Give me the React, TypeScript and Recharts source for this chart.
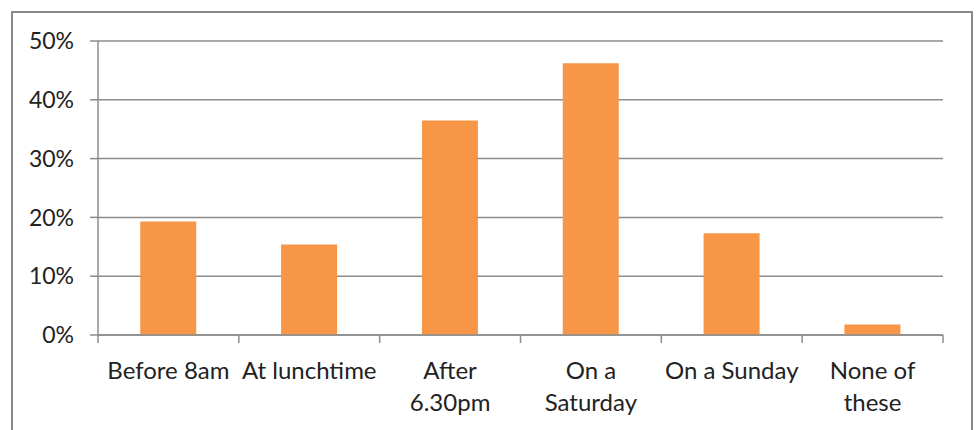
import React from "react";
import { BarChart, Bar, XAxis, YAxis, CartesianGrid } from "recharts";

const categories = [
  "Before 8am",
  "At lunchtime",
  "After 6.30pm",
  "On a Saturday",
  "On a Sunday",
  "None of these",
];
// how each category label wraps onto lines
const labelLines = [
  ["Before 8am"],
  ["At lunchtime"],
  ["After", "6.30pm"],
  ["On a", "Saturday"],
  ["On a Sunday"],
  ["None of", "these"],
];
const shares = [0.193, 0.154, 0.365, 0.462, 0.173, 0.018];
const yTicks = [0, 0.1, 0.2, 0.3, 0.4, 0.5];

const W = 978;
const H = 430;
const M = { top: 41, right: 35, bottom: 35, left: 0 };
const Y_AXIS_W = 98;
const X_AXIS_H = 60;
const PLOT_W = W - M.left - M.right - Y_AXIS_W;
const FONT = "Lato, 'Open Sans', sans-serif";
const GRID = "#8c8c8c";
const INK = "#222";

const data = categories.map((name, i) => ({ name, value: shares[i], idx: i }));

const XTick = (props: any) => {
  const { x, y, payload, index } = props;
  const half = PLOT_W / categories.length / 2;
  const lines = labelLines[index] || [payload.value];
  return (
    <g>
      <line x1={x - half} x2={x - half} y1={y - 8} y2={y} stroke={GRID} strokeWidth={1.5} />
      {index === categories.length - 1 && (
        <line x1={x + half} x2={x + half} y1={y - 8} y2={y} stroke={GRID} strokeWidth={1.5} />
      )}
      <text x={x} y={y + 36} textAnchor="middle" fill={INK} fontSize={24} fontFamily={FONT}>
        {lines.map((l: string, k: number) => (
          <tspan key={k} x={x} dy={k === 0 ? 0 : 32}>
            {l}
          </tspan>
        ))}
      </text>
    </g>
  );
};

export default function App() {
  return (
    <div
      style={{
        position: "absolute",
        left: 0,
        top: 0,
        width: W,
        height: H,
        background: "#fff",
        overflow: "hidden",
      }}
    >
      <div
        style={{
          position: "absolute",
          left: 11,
          top: 11,
          width: 958,
          height: 460,
          border: "2px solid #8a8a8a",
        }}
      />
      <BarChart width={W} height={H} data={data} margin={M} barCategoryGap="30%">
        <CartesianGrid vertical={false} stroke={GRID} strokeWidth={1.5} />
        <XAxis
          dataKey="name"
          height={X_AXIS_H}
          stroke={GRID}
          strokeWidth={1.5}
          tickLine={false}
          interval={0}
          tick={<XTick />}
        />
        <YAxis
          width={Y_AXIS_W}
          domain={[0, 0.5]}
          ticks={yTicks}
          tickFormatter={(v: number) => `${Math.round(v * 100)}%`}
          stroke={GRID}
          strokeWidth={1.5}
          tickSize={8}
          tickMargin={16}
          tick={{ fill: INK, fontSize: 23, fontFamily: FONT }}
        />
        <Bar dataKey="value" fill="#F79646" isAnimationActive={false} />
      </BarChart>
    </div>
  );
}
